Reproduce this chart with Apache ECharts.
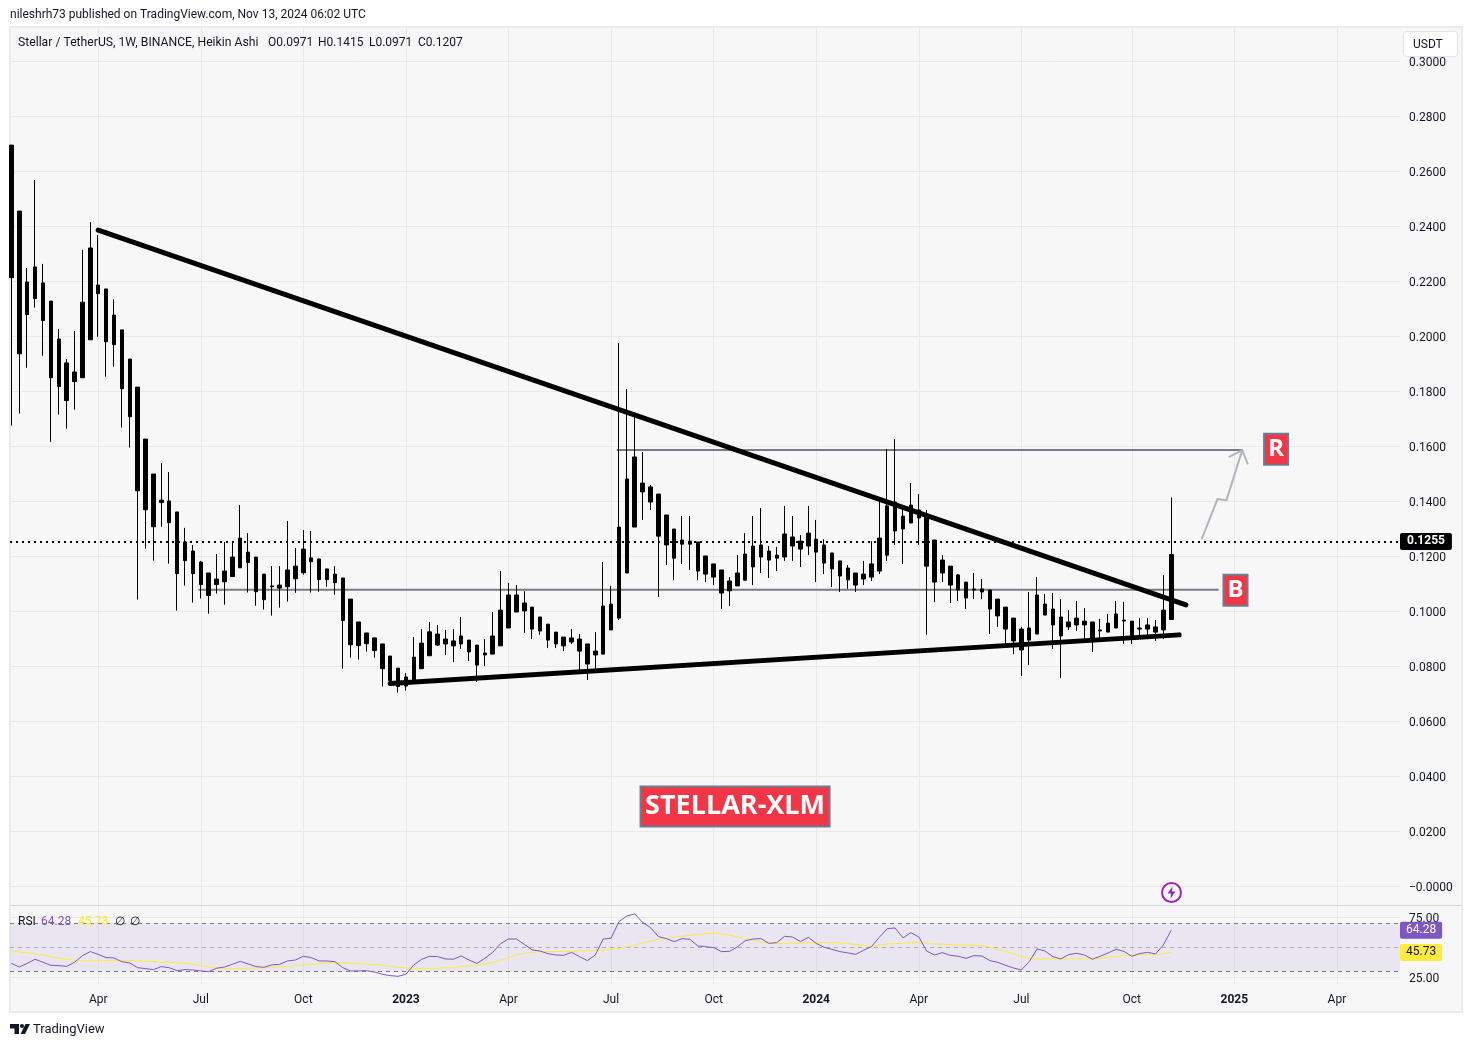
<!DOCTYPE html>
<html><head><meta charset="utf-8">
<style>html,body{margin:0;padding:0;background:#fff}#c{width:1472px;height:1047px}</style>
<script src="https://cdn.jsdelivr.net/npm/echarts@6/dist/echarts.min.js"></script>
</head><body><div id="c"></div>
<script>
const FIRST_WEEK = '2022-01-17';
const highs = [.2696,.2456,.2249,.2569,.2264,.2129,.2027,.1918,.2020,.2315,.2416,.2369,.2173,.2136,.2024,.1918,.1816,.1627,.1500,.1540,.1507,.1362,.1304,.1242,.1184,.1140,.1209,.1253,.1249,.1387,.1285,.1198,.1136,.1165,.1165,.1329,.1231,.1296,.1293,.1191,.1155,.1165,.1122,.1045,.0962,.0922,.0904,.0882,.0838,.0794,.0776,.0907,.0936,.0962,.0951,.0933,.0936,.0980,.0896,.0878,.0900,.0998,.1147,.1104,.1096,.1074,.1016,.0980,.0954,.0925,.0907,.0936,.0918,.0882,.0925,.1180,.1093,.1976,.1809,.1725,.1580,.1460,.1427,.1351,.1300,.1347,.1347,.1253,.1202,.1173,.1151,.1125,.1205,.1285,.1347,.1376,.1238,.1235,.1384,.1347,.1278,.1384,.1333,.1263,.1213,.1184,.1169,.1140,.1184,.1256,.1402,.1591,.1627,.1373,.1467,.1427,.1369,.1260,.1205,.1165,.1136,.1107,.1140,.1118,.1078,.1045,.1016,.0976,.0944,.1071,.1125,.1064,.1067,.1045,.1005,.1038,.1012,.0962,.0973,.0991,.1038,.1035,.0965,.0976,.0976,.0969,.1133,.1415];
const bodyTops = [.2696,.2456,.2198,.2253,.2195,.2129,.1991,.1904,.1871,.2125,.2322,.2187,.2173,.2078,.2024,.1918,.1816,.1627,.1500,.1405,.1402,.1362,.1253,.1220,.1180,.1140,.1118,.1147,.1198,.1267,.1216,.1198,.1136,.1093,.1096,.1151,.1165,.1227,.1195,.1191,.1155,.1136,.1122,.1045,.0962,.0922,.0904,.0882,.0838,.0794,.0762,.0834,.0885,.0926,.0918,.0900,.0893,.0911,.0896,.0878,.0849,.0911,.1005,.1060,.1060,.1031,.1016,.0980,.0954,.0925,.0907,.0904,.0900,.0882,.0856,.1020,.1027,.1307,.1482,.1562,.1467,.1453,.1427,.1351,.1300,.1260,.1256,.1253,.1202,.1173,.1151,.1111,.1140,.1209,.1238,.1242,.1220,.1205,.1282,.1271,.1256,.1285,.1263,.1242,.1213,.1184,.1158,.1140,.1136,.1173,.1267,.1384,.1398,.1347,.1387,.1369,.1351,.1260,.1187,.1165,.1133,.1107,.1082,.1082,.1078,.1045,.1016,.0976,.0936,.0940,.1060,.1027,.1009,.0980,.0962,.0976,.0965,.0962,.0933,.0958,.0991,.0969,.0965,.0940,.0951,.0944,.1005,.1207];
const bodyBottoms = [.2214,.1937,.2080,.2138,.2058,.1850,.1818,.1767,.1836,.1850,.1988,.2156,.1981,.1970,.1810,.1708,.1439,.1370,.1308,.1396,.1323,.1138,.1185,.1138,.1098,.1058,.1098,.1108,.1127,.1159,.1178,.1072,.1043,.1090,.1085,.1090,.1119,.1141,.1181,.1116,.1116,.1105,.0967,.0879,.0876,.0883,.0858,.0792,.0749,.0727,.0729,.0751,.0792,.0839,.0878,.0882,.0875,.0882,.0853,.0805,.0842,.0845,.0875,.0940,.0998,.1002,.0936,.0929,.0896,.0882,.0875,.0889,.0856,.0809,.0842,.0845,.0933,.0976,.1140,.1307,.1435,.1398,.1274,.1242,.1194,.1245,.1245,.1147,.1136,.1125,.1067,.1075,.1093,.1114,.1162,.1198,.1187,.1194,.1198,.1238,.1227,.1238,.1216,.1176,.1155,.1129,.1115,.1096,.1118,.1125,.1147,.1205,.1293,.1300,.1322,.1340,.1165,.1107,.1140,.1096,.1078,.1049,.1078,.1071,.1009,.0984,.0936,.0893,.0860,.0896,.0918,.0987,.0951,.0911,.0944,.0951,.0951,.0900,.0929,.0925,.0940,.0965,.0904,.0936,.0936,.0925,.0933,.0971];
const lows = [.1676,.1720,.1886,.2105,.1930,.1617,.1716,.1665,.1734,.1850,.1988,.1999,.1854,.1890,.1669,.1596,.1043,.1228,.1185,.1308,.1174,.1003,.1094,.1032,.1047,.0992,.1065,.1025,.1127,.1159,.1069,.1021,.1007,.0985,.1014,.1036,.1068,.1134,.1069,.1072,.1090,.1061,.0792,.0832,.0825,.0854,.0832,.0727,.0749,.0705,.0712,.0751,.0792,.0839,.0874,.0842,.0816,.0864,.0820,.0744,.0802,.0845,.0875,.0940,.0998,.0922,.0900,.0915,.0867,.0867,.0856,.0882,.0784,.0751,.0787,.0845,.0933,.0969,.1140,.1307,.1333,.1369,.1053,.1169,.1114,.1173,.1151,.1114,.1107,.1096,.1009,.1020,.1093,.1114,.1096,.1140,.1122,.1147,.1184,.1184,.1162,.1205,.1107,.1136,.1089,.1071,.1082,.1071,.1096,.1111,.1136,.1184,.1242,.1173,.1322,.1242,.0915,.1034,.1107,.1031,.1038,.1009,.1045,.1045,.0918,.0944,.0882,.0845,.0765,.0805,.0918,.0987,.0864,.0758,.0933,.0929,.0896,.0853,.0900,.0925,.0940,.0882,.0882,.0907,.0911,.0893,.0900,.0971];
const rsiValues = [36.6,33.6,36.6,40.0,37.5,35.0,34.7,34.1,37.5,43.0,46.4,44.1,41.4,41.1,38.0,36.9,33.0,32.2,31.4,33.9,33.0,30.5,31.4,31.1,30.3,29.7,32.5,33.6,35.8,38.3,36.1,33.9,33.3,35.3,35.8,38.6,39.4,42.5,41.4,38.6,38.6,38.0,33.0,30.3,30.3,30.5,29.4,27.5,26.4,25.8,27.5,35.3,40.0,42.5,42.2,40.3,40.0,42.8,39.4,36.6,40.8,45.8,53.0,56.9,56.9,52.5,47.8,46.9,44.7,43.6,43.3,45.8,42.2,38.9,43.6,56.9,57.5,71.4,76.1,77.75,70.8,66.4,58.9,57.2,54.7,57.2,56.6,51.1,50.5,49.7,46.4,46.6,50.25,55.5,56.9,57.2,53.3,53.9,59.1,58.6,54.7,58.3,53.3,50.0,48.3,46.4,45.3,44.1,47.5,50.5,58.3,65.5,66.1,57.75,62.2,58.6,46.9,43.6,45.5,43.3,42.5,40.8,43.0,42.75,38.9,37.5,35.0,32.75,31.1,38.0,48.6,46.9,42.2,40.3,43.9,45.0,43.6,40.0,42.5,45.3,48.3,46.6,42.5,44.7,45.8,44.4,51.9,64.28];
const rsiMaValues = [46.9,46.1,45.25,44.4,43.6,42.2,40.8,40.0,39.1,38.6,38.6,38.9,38.9,38.9,38.9,38.9,38.6,38.3,38.0,37.75,37.5,37.2,36.6,35.8,34.7,33.6,32.75,32.5,32.2,32.2,32.5,32.75,33.0,33.3,33.6,34.1,34.7,35.3,35.8,36.4,36.9,37.5,37.2,36.9,36.4,36.1,35.8,35.0,34.1,33.3,33.0,32.2,32.2,32.2,32.5,32.75,33.0,33.9,34.7,35.3,36.1,37.5,39.1,41.4,43.6,45.0,45.8,46.1,46.4,46.4,46.6,46.6,46.9,47.2,47.5,47.75,48.3,49.1,50.25,51.9,53.6,55.25,56.4,57.5,58.3,59.1,59.95,60.8,61.4,61.6,61.1,60.25,58.6,57.2,55.8,54.4,53.3,53.0,53.0,53.3,53.3,53.9,53.9,53.9,53.9,53.6,53.0,52.2,51.4,50.8,51.9,52.75,53.0,53.3,53.9,53.9,53.3,52.75,52.5,52.2,51.9,51.9,51.6,51.4,50.0,48.3,46.4,44.4,42.2,40.8,40.25,40.25,40.25,40.25,40.5,40.5,40.5,40.25,40.8,41.65,42.5,43.0,43.6,44.1,44.1,44.1,44.7,45.73];
const priceTicks = [0,.02,.04,.06,.08,.10,.12,.14,.16,.18,.20,.22,.24,.26,.28,.30];
const rsiTicks = [25,75];
const timeTickDates = ['2022-04-04','2022-07-04','2022-10-03','2023-01-02','2023-04-03','2023-07-03','2023-10-02','2024-01-01','2024-04-01','2024-07-01','2024-10-07','2025-01-06','2025-04-07'];
const timeTickLabels = ['Apr','Jul','Oct','2023','Apr','Jul','Oct','2024','Apr','Jul','Oct','2025','Apr'];
const downTrendDates = ['2022-04-04','2024-11-24'];
const downTrendPrices = [.2387,.1024];
const upTrendDates = ['2022-12-19','2024-11-18'];
const upTrendPrices = [.0738,.0915];
const resistanceDates = ['2023-07-08','2025-01-13'];
const resistancePrices = [.1587,.1587];
const breakoutDates = ['2022-07-02','2024-12-23'];
const breakoutPrices = [.1079,.1079];
const arrowDates = ['2024-12-08','2024-12-22','2024-12-30','2025-01-13'];
const arrowPrices = [.1263,.1409,.1405,.1587];
const arrowHeadDates = ['2025-01-01','2025-01-13','2025-01-18'];
const arrowHeadPrices = [.1561,.1587,.1535];
const lastPrice = .1255;
const noteDates = ['2025-02-12','2025-01-07','2023-10-21'];
const notePrices = [.1590,.1077,.0291];
const noteTexts = ['R','B','STELLAR-XLM'];

const WEEK = 7*86400000;
const weekOf = s => { const p = s.split('-'), f = FIRST_WEEK.split('-'); return (Date.UTC(+p[0], p[1]-1, +p[2]) - Date.UTC(+f[0], f[1]-1, +f[2]))/WEEK; };
const weekIdx = highs.map((_, i) => i);
const tickWeeks = timeTickDates.map(weekOf);
const xMin = -0.18;
const xMax = xMin + 1390/7.89;
const zip = (d, v) => d.map((x, i) => [weekOf(x), v[i]]);
const FONT = 'Roboto';
const TXT = '#131722';
const lastRsi = rsiValues[rsiValues.length-1], lastMa = rsiMaValues[rsiMaValues.length-1];

const xBase = {type:'value', min:xMin, max:xMax, axisLine:{show:false},
  axisTick:{show:false, customValues:tickWeeks},
  splitLine:{show:true, lineStyle:{color:'#e9e9ea', width:1}}};
const lineSer = (name, data, color, width, z, cap) => ({name, type:'line', xAxisIndex:0, yAxisIndex:0, data,
  showSymbol:false, symbol:'none', silent:true, z, lineStyle:{color, width, cap:cap||'butt', join:'miter'}});
const tag = (text, bg, fg, bold) => ({show:true, position:'end', distance:0, formatter:()=>text, color:fg, fontWeight:bold?'bold':'normal', fontSize:12, fontFamily:FONT,
  backgroundColor:bg, padding:bold?[3,7,2,7]:[3,6,2,6], borderRadius:2});

const option = {
  animation:false, backgroundColor:'#fff',
  textStyle:{fontFamily:FONT},
  grid:[{left:10, right:72, top:27, height:878},
        {left:10, right:72, top:906, height:78}],
  xAxis:[
    Object.assign({}, xBase, {gridIndex:0, axisLabel:{show:false, customValues:tickWeeks}}),
    Object.assign({}, xBase, {gridIndex:1, axisLabel:{show:true, customValues:tickWeeks, color:TXT, fontSize:12, fontFamily:FONT, margin:10, hideOverlap:false,
      rich:{y:{fontWeight:'bold', fontSize:12, color:TXT, fontFamily:FONT}},
      formatter:v => { const t = timeTickLabels[tickWeeks.indexOf(v)]; return /^\d/.test(t) ? '{y|'+t+'}' : t; }}})
  ],
  yAxis:[
    {type:'value', gridIndex:0, position:'right', min:-0.00673, max:.31255, axisLine:{show:false},
     axisTick:{show:false, customValues:priceTicks},
     axisLabel:{customValues:priceTicks, color:TXT, fontSize:12, fontFamily:FONT, margin:9, align:'left', verticalAlign:'top', lineHeight:3,
       formatter:v => v < 1e-9 ? '\u22120.0000' : v.toFixed(4)},
     splitLine:{show:true, lineStyle:{color:'#e9e9ea', width:1}}},
    {type:'value', gridIndex:1, position:'right', min:19.4, max:84.4, axisLine:{show:false},
     axisTick:{show:false, customValues:rsiTicks},
     axisLabel:{customValues:rsiTicks, color:TXT, fontSize:12, fontFamily:FONT, margin:9, align:'left', verticalAlign:'top', lineHeight:3, formatter:v => v.toFixed(2)},
     splitLine:{show:true, lineStyle:{color:'#e9e9ea', width:1}}}
  ],
  series:[
    lineSer('Breakout', zip(breakoutDates, breakoutPrices), '#787b86', 2, 2),
    lineSer('Resistance', zip(resistanceDates, resistancePrices), '#787b86', 2, 2),
    {name:'XLMUSDT', type:'candlestick', xAxisIndex:0, yAxisIndex:0, z:3, silent:true, barWidth:4,
     encode:{x:0, y:[1,2,3,4]},
     data:weekIdx.map(i=>[i, bodyBottoms[i], bodyTops[i], lows[i], highs[i]]),
     itemStyle:{color:'#000', color0:'#000', borderColor:'#000', borderColor0:'#000', borderWidth:1},
     markLine:{silent:true, symbol:'none', animation:false, z:2, precision:6,
       lineStyle:{color:'#000', width:2, type:[2,4]},
       label:tag(lastPrice.toFixed(4), '#000', '#fff', true),
       data:[{yAxis:lastPrice}]}},
    lineSer('Down trendline', zip(downTrendDates, downTrendPrices), '#000', 5, 5, 'round'),
    lineSer('Up trendline', zip(upTrendDates, upTrendPrices), '#000', 5, 5, 'round'),
    lineSer('Projection', zip(arrowDates, arrowPrices), '#b2b5be', 2, 6),
    lineSer('Projection head', zip(arrowHeadDates, arrowHeadPrices), '#b2b5be', 2, 6),
    {name:'Notes', type:'scatter', xAxisIndex:0, yAxisIndex:0, symbolSize:1, itemStyle:{color:'rgba(0,0,0,0)', opacity:1}, silent:true, z:7,
     data:noteTexts.map((t,i)=>({value:[weekOf(noteDates[i]), notePrices[i]],
       label:{show:true, position:'inside', formatter:t, color:'#fff', fontWeight:'bold', fontFamily:'"Open Sans"', fontSize:t.length>1?27:24,
              backgroundColor:'#f23645', borderColor:'#6b7d90', borderWidth:2,
              padding:t.length>1?[3,0,0,0]:0, width:t.length>1?187:22, height:t.length>1?35:29, lineHeight:t.length>1?38:29, align:'center', verticalAlign:'middle'}}))},
    {name:'RSI', type:'line', xAxisIndex:1, yAxisIndex:1, symbol:'none', showSymbol:false, silent:true, z:4,
     data:weekIdx.map(i=>[i, rsiValues[i]]), lineStyle:{color:'#7e57c2', width:1},
     markArea:{silent:true, itemStyle:{color:'rgba(126,87,194,0.1)'}, data:[[{yAxis:30},{yAxis:70}]]},
     markLine:{silent:true, symbol:'none', animation:false, z:2, precision:4,
       lineStyle:{color:'#787b86', width:1, type:[4,4]}, label:{show:false},
       data:[{yAxis:70},{yAxis:30},{yAxis:50, lineStyle:{color:'rgba(120,123,134,0.55)', width:1, type:[4,4]}},
         {yAxis:lastRsi, lineStyle:{color:'rgba(0,0,0,0)', width:0}, label:tag(lastRsi.toFixed(2), '#7e57c2', '#fff')}]}},
    {name:'RSI MA', type:'line', xAxisIndex:1, yAxisIndex:1, symbol:'none', showSymbol:false, silent:true, z:3,
     data:weekIdx.map(i=>[i, rsiMaValues[i]]), lineStyle:{color:'#ffeb3b', width:1},
     markLine:{silent:true, symbol:'none', animation:false, z:3, precision:4, lineStyle:{color:'rgba(0,0,0,0)', width:0},
       label:tag(lastMa.toFixed(2), '#ffeb3b', '#131722'),
       data:[{yAxis:lastMa}]}}
  ],
  graphic:[
    {type:'rect', silent:true, z:-10, shape:{x:10,y:27,width:1452,height:985}, style:{fill:'#f7f7f7', stroke:'#ebebf0', lineWidth:2}},
    {type:'line', silent:true, z:1, shape:{x1:10,y1:905.5,x2:1462,y2:905.5}, style:{stroke:'#d6d6e0', lineWidth:1}},
    {type:'text', silent:true, x:10, y:9, z:20, style:{text:'nileshrh73 published on TradingView.com, Nov 13, 2024 06:02 UTC', fill:TXT, font:'12px '+FONT}},
    {type:'text', silent:true, x:18, y:37, z:20, style:{text:'Stellar / TetherUS, 1W, BINANCE, Heikin Ashi', fill:TXT, font:'12.2px '+FONT}},
    {type:'text', silent:true, x:268, y:37, z:20, style:{text:'O0.0971', fill:TXT, font:'12px '+FONT}},
    {type:'text', silent:true, x:318, y:37, z:20, style:{text:'H0.1415', fill:TXT, font:'12px '+FONT}},
    {type:'text', silent:true, x:369, y:37, z:20, style:{text:'L0.0971', fill:TXT, font:'12px '+FONT}},
    {type:'text', silent:true, x:418, y:37, z:20, style:{text:'C0.1207', fill:TXT, font:'12px '+FONT}},
    {type:'text', silent:true, x:18, y:916, z:20, style:{text:'RSI', fill:TXT, font:'12px '+FONT}},
    {type:'text', silent:true, x:41, y:916, z:20, style:{text:'64.28', fill:'#7e57c2', font:'12px '+FONT}},
    {type:'text', silent:true, x:78, y:916, z:20, style:{text:'45.73', fill:'#ffeb3b', font:'12px '+FONT}},
    {type:'text', silent:true, x:115, y:916, z:20, style:{text:'\u2205', fill:TXT, font:'12px '+FONT}},
    {type:'text', silent:true, x:130, y:916, z:20, style:{text:'\u2205', fill:TXT, font:'12px '+FONT}},
    {type:'rect', silent:true, z:18, shape:{x:1401,y:28,width:60,height:29}, style:{fill:'#f7f7f7'}},
    {type:'rect', silent:true, z:19, shape:{x:1403.5,y:31.5,width:54,height:25,r:3}, style:{fill:'#fff', stroke:'#e0e3eb', lineWidth:1}},
    {type:'text', silent:true, x:1413, y:39, z:20, style:{text:'USDT', fill:TXT, font:'12px '+FONT}},
    {type:'circle', silent:true, z:20, shape:{cx:1171.5,cy:892.5,r:9.5}, style:{fill:'rgba(0,0,0,0)', stroke:'#9c27b0', lineWidth:2}},
    {type:'polygon', silent:true, z:20, shape:{points:[[1172.5,886.5],[1167.5,893.5],[1171,893.5],[1170.5,898.5],[1175.5,891.5],[1172,891.5]]}, style:{fill:'#9c27b0'}},
    {type:'polygon', silent:true, z:20, shape:{points:[[10,1024],[19,1024],[19,1034],[14.5,1034],[14.5,1028.5],[10,1028.5]]}, style:{fill:'#131722'}},
    {type:'polygon', silent:true, z:20, shape:{points:[[25.5,1024],[30,1024],[25,1034],[20.5,1034]]}, style:{fill:'#131722'}},
    {type:'circle', silent:true, z:20, shape:{cx:22,cy:1026,r:2}, style:{fill:'#131722'}},
    {type:'text', silent:true, x:33, y:1023, z:20, style:{text:'TradingView', fill:TXT, font:'13px '+FONT}}
  ]
};
echarts.init(document.getElementById('c'), null, {renderer:'canvas'}).setOption(option);
</script></body></html>
